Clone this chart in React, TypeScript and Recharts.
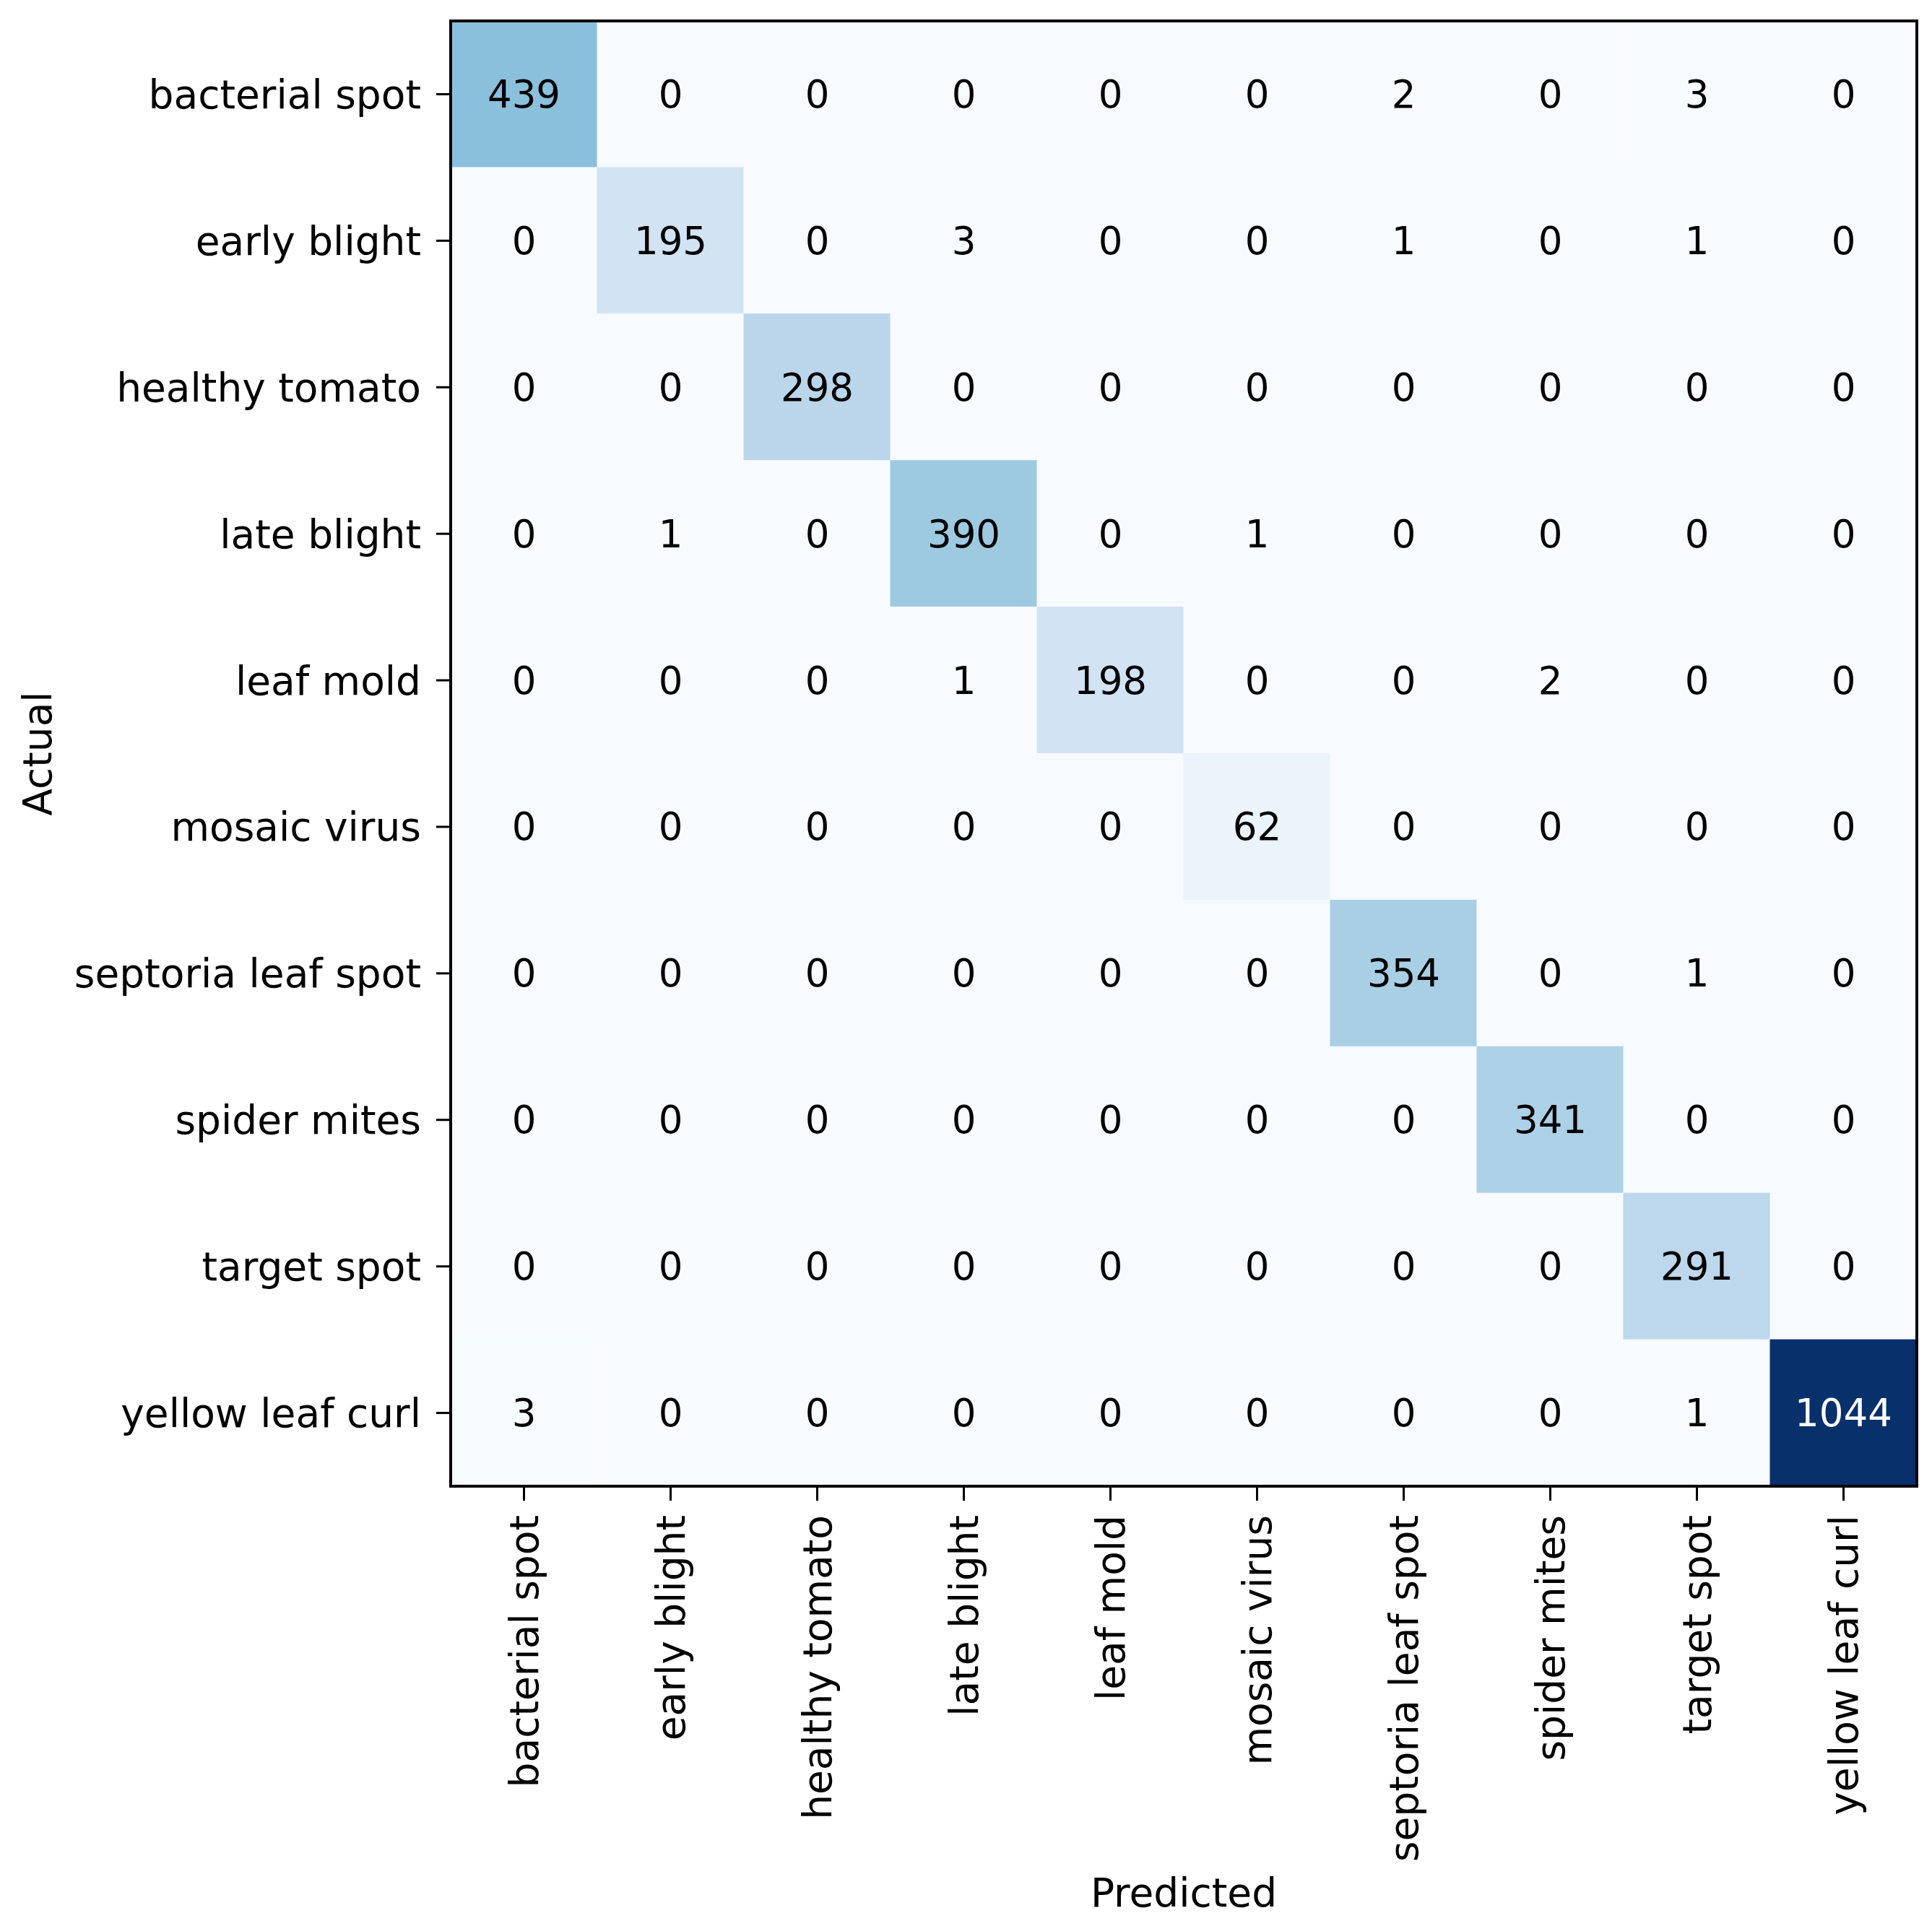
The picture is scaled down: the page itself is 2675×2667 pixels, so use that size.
import React from "react";
import { BarChart, Bar, XAxis, YAxis, Cell, LabelList, ReferenceArea } from "recharts";

const classNames = [
  "bacterial spot",
  "early blight",
  "healthy tomato",
  "late blight",
  "leaf mold",
  "mosaic virus",
  "septoria leaf spot",
  "spider mites",
  "target spot",
  "yellow leaf curl",
];

// one row per actual class, columns are the predicted classes
const bacterialSpot = [439, 0, 0, 0, 0, 0, 2, 0, 3, 0];
const earlyBlight = [0, 195, 0, 3, 0, 0, 1, 0, 1, 0];
const healthyTomato = [0, 0, 298, 0, 0, 0, 0, 0, 0, 0];
const lateBlight = [0, 1, 0, 390, 0, 1, 0, 0, 0, 0];
const leafMold = [0, 0, 0, 1, 198, 0, 0, 2, 0, 0];
const mosaicVirus = [0, 0, 0, 0, 0, 62, 0, 0, 0, 0];
const septoriaLeafSpot = [0, 0, 0, 0, 0, 0, 354, 0, 1, 0];
const spiderMites = [0, 0, 0, 0, 0, 0, 0, 341, 0, 0];
const targetSpot = [0, 0, 0, 0, 0, 0, 0, 0, 291, 0];
const yellowLeafCurl = [3, 0, 0, 0, 0, 0, 0, 0, 1, 1044];

const matrix = [
  bacterialSpot,
  earlyBlight,
  healthyTomato,
  lateBlight,
  leafMold,
  mosaicVirus,
  septoriaLeafSpot,
  spiderMites,
  targetSpot,
  yellowLeafCurl,
];

// matplotlib "Blues"
const BLUES = [
  [247, 251, 255],
  [222, 235, 247],
  [198, 219, 239],
  [158, 202, 225],
  [107, 174, 214],
  [66, 146, 198],
  [33, 113, 181],
  [8, 81, 156],
  [8, 48, 107],
];

const blues = (t: number) => {
  const p = Math.min(Math.max(t, 0), 1) * (BLUES.length - 1);
  const i = Math.min(Math.floor(p), BLUES.length - 2);
  const f = p - i;
  const c = BLUES[i].map((v, k) => Math.round(v + (BLUES[i + 1][k] - v) * f));
  return `rgb(${c[0]},${c[1]},${c[2]})`;
};

const vmax = Math.max(...matrix.flat());
const FONT = "DejaVu Sans";
const FS = 55; // tick + axis labels
const CELL_FS = 53;

// each predicted column is a stack of unit cells, one per actual class
const data = classNames.map((name, j) => {
  const col: Record<string, any> = { name };
  matrix.forEach((row, i) => {
    col[`r${i}`] = 1;
    col[`c${i}`] = row[j];
  });
  return col;
});

const rowTicks = classNames.map((_, i) => i + 0.5);

const XTick = (props: any) => {
  const { x, y, payload } = props;
  return (
    <text
      x={x}
      y={y}
      transform={`rotate(-90, ${x}, ${y})`}
      textAnchor="end"
      dominantBaseline="central"
      fontFamily={FONT}
      fontSize={FS}
      fill="#000"
    >
      {payload.value}
    </text>
  );
};

const CountLabel = (props: any) => {
  const { x, y, width, height, value } = props;
  return (
    <text
      x={x + width / 2}
      y={y + height / 2}
      textAnchor="middle"
      dominantBaseline="central"
      fontFamily={FONT}
      fontSize={CELL_FS}
      fill={value > vmax / 2 ? "#fff" : "#000"}
    >
      {value}
    </text>
  );
};

const App = () => {
  return (
    <div style={{ position: "absolute", left: 0, top: 0, width: 2675, height: 2667, background: "#fff" }}>
      <BarChart
        width={2675}
        height={2667}
        data={data}
        margin={{ top: 29, right: 21, left: 0, bottom: 0 }}
        barCategoryGap={0}
        barGap={0}
      >
        <XAxis
          dataKey="name"
          interval={0}
          height={609}
          tickSize={20}
          tickMargin={20}
          tick={<XTick />}
          axisLine={{ stroke: "#000", strokeWidth: 4 }}
          tickLine={{ stroke: "#000", strokeWidth: 3 }}
          label={(p: any) => (
            <text
              x={p.viewBox.x + p.viewBox.width / 2}
              y={p.viewBox.y + p.viewBox.height - 46}
              textAnchor="middle"
              dominantBaseline="central"
              fontFamily={FONT}
              fontSize={FS}
              fill="#000"
            >
              Predicted
            </text>
          )}
        />
        <YAxis
          type="number"
          domain={[0, classNames.length]}
          reversed
          ticks={rowTicks}
          interval={0}
          width={624}
          tickSize={20}
          tickMargin={21}
          tickFormatter={(v: number) => classNames[Math.floor(v)]}
          tick={{ fill: "#000", fontFamily: FONT, fontSize: FS }}
          axisLine={{ stroke: "#000", strokeWidth: 4 }}
          tickLine={{ stroke: "#000", strokeWidth: 3 }}
          allowDataOverflow
          label={(p: any) => (
            <text
              x={52}
              y={p.viewBox.y + p.viewBox.height / 2}
              transform={`rotate(-90, 52, ${p.viewBox.y + p.viewBox.height / 2})`}
              textAnchor="middle"
              dominantBaseline="central"
              fontFamily={FONT}
              fontSize={FS}
              fill="#000"
            >
              Actual
            </text>
          )}
        />
        {matrix.map((_, i) => (
          <Bar key={i} dataKey={`r${i}`} stackId="cm" isAnimationActive={false}>
            {data.map((d, j) => {
              const fill = blues(d[`c${i}`] / vmax);
              return <Cell key={j} fill={fill} stroke={fill} strokeWidth={1} />;
            })}
            <LabelList dataKey={`c${i}`} content={<CountLabel />} />
          </Bar>
        ))}
        <ReferenceArea
          x1={classNames[0]}
          x2={classNames[classNames.length - 1]}
          y1={0}
          y2={classNames.length}
          fill="none"
          stroke="#000"
          strokeWidth={4}
          ifOverflow="visible"
          zIndex={2000}
        />
      </BarChart>
    </div>
  );
};

export default App;
